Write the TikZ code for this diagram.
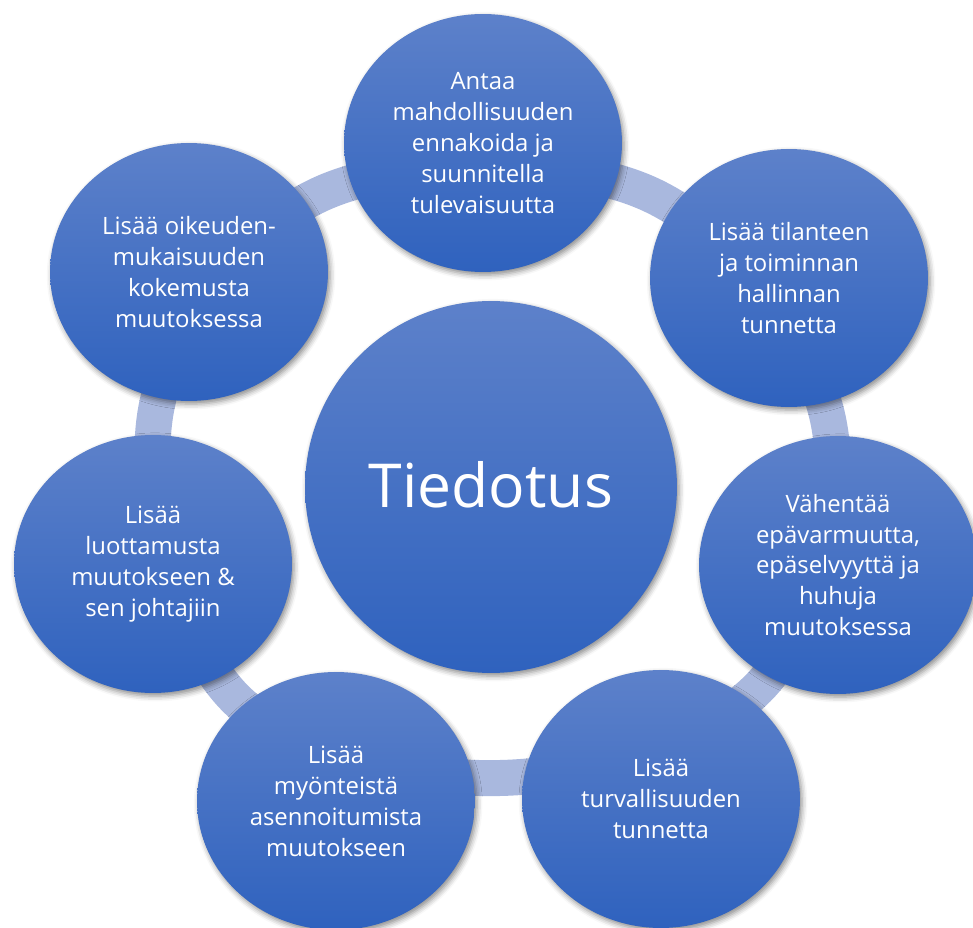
\documentclass[tikz,border=0pt]{standalone}
\usepackage{fontspec}
\setmainfont{Open Sans}
\usetikzlibrary{shapes.geometric,shadows.blur}

\definecolor{ringblue}{RGB}{169,184,222}
\definecolor{topblue}{RGB}{93,129,202}
\definecolor{botblue}{RGB}{47,98,190}

\tikzset{
  bubble/.style={ellipse, inner sep=0pt, draw=none,
    top color=topblue, bottom color=botblue,
    text=white, align=center,
    font=\fontsize{13.6}{17.6}\selectfont,
    blur shadow={shadow xshift=1.2pt, shadow yshift=-1.8pt,
      shadow blur radius=3pt, shadow opacity=45}},
  outer/.style={bubble, minimum width=5.56cm, minimum height=5.16cm},
  hub/.style={bubble, circle, minimum size=7.44cm,
    font=\fontsize{34.5}{40}\selectfont},
  ring/.style={draw=ringblue, line width=0.72cm}
}

\begin{document}
\begin{tikzpicture}[x=0.02cm, y=-0.02cm]
\useasboundingbox (0,0) rectangle (973,928);

% waypoints of the connecting ring, one in each gap between neighbours
\coordinate (g1) at (647,193);
\coordinate (g2) at (827,415);
\coordinate (g3) at (763,683);
\coordinate (g4) at (500,778);
\coordinate (g5) at (232,695);
\coordinate (g6) at (156,410);
\coordinate (g7) at (323,193);

\draw[ring] plot[smooth cycle, tension=0.6] coordinates {(g1) (g2) (g3) (g4) (g5) (g6) (g7)};

% central hub
\node[hub] (hub) at (491,487) {\raisebox{0.12cm}{Tiedotus}};

% surrounding bubbles, clockwise from the top
\node[outer] (n1) at (483,143) {Antaa\\mahdollisuuden\\ennakoida ja\\suunnitella\\tulevaisuutta};
\node[outer] (n2) at (789,278) {Lisää tilanteen\\ja toiminnan\\hallinnan\\tunnetta};
\node[outer] (n3) at (838,565) {Vähentää\\epävarmuutta,\\epäselvyyttä ja\\huhuja\\muutoksessa};
\node[outer] (n4) at (661,799) {Lisää\\turvallisuuden\\tunnetta};
\node[outer] (n5) at (336,801) {Lisää\\myönteistä\\asennoitumista\\muutokseen};
\node[outer] (n6) at (153,564) {Lisää\\luottamusta\\muutokseen \&\\sen johtajiin};
\node[outer] (n7) at (189,272) {Lisää oikeuden-\\mukaisuuden\\kokemusta\\muutoksessa};
\end{tikzpicture}
\end{document}
